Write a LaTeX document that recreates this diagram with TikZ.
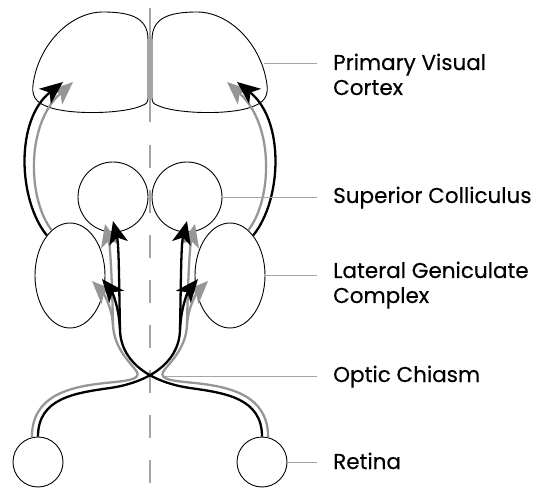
\documentclass[tikz,border=0pt]{standalone}
\usepackage{fontspec}
\setmainfont{Poppins}[FakeBold=0.3]
\usetikzlibrary{arrows.meta,shapes.geometric}

\definecolor{pathgray}{RGB}{150,150,150}
\definecolor{leadgray}{RGB}{165,165,165}

\tikzset{fibretip/.tip={Stealth[length=23pt,width=19pt,inset=6pt]}}

\begin{document}
\begin{tikzpicture}[x=1pt,y=-1pt,
    region/.style={draw, line width=0.9pt, inner sep=0pt},
    crossed/.style={line width=2.3pt, -fibretip},
    uncrossed/.style={crossed, pathgray},
    leader/.style={leadgray, line width=0.9pt},
    lbltext/.style={inner sep=0pt, align=left, font=\fontsize{21.5}{25}\selectfont}]
    \useasboundingbox (0,0) rectangle (544,489);

    % Draw the midline
    \draw[leader, line width=1.3pt] (150,8) -- (150,122);
    \draw[leader, line width=1.3pt, dash pattern=on 23pt off 22pt] (150,145) -- (150,489);

    % Draw the cortex halves
    \draw[region] (148,98) -- (148,40) .. controls (148,20) and (135,12) .. (103,12)
        .. controls (70,12) and (38,45) .. (33,85) .. controls (31,100) and (40,105) .. (55,109)
        .. controls (80,115) and (125,113) .. (141,106) .. controls (147,104) and (148,102) .. cycle;
    \draw[region] (152,98) -- (152,40) .. controls (152,20) and (165,12) .. (197,12)
        .. controls (230,12) and (262,45) .. (267,85) .. controls (269,100) and (260,105) .. (245,109)
        .. controls (220,115) and (175,113) .. (159,106) .. controls (153,104) and (152,102) .. cycle;
    \coordinate (ctxR) at (264,63);

    % Draw the colliculi, geniculate bodies and retinas
    \node[region, circle, minimum size=70pt] (scL) at (113,197) {};
    \node[region, circle, minimum size=70pt] (scR) at (187,197) {};
    \node[region, ellipse, minimum width=70pt, minimum height=105pt] (lgnL) at (70,275.5) {};
    \node[region, ellipse, minimum width=70pt, minimum height=105pt] (lgnR) at (230,275.5) {};
    \node[region, circle, minimum size=50pt] (retL) at (38,462) {};
    \node[region, circle, minimum size=50pt] (retR) at (262,462) {};
    \coordinate (chiasm) at (164,376);

    % Uncrossed fibres
    \draw[uncrossed] (retL.104) .. controls (32,396) and (68,387) .. (105,383)
        .. controls (125,381) and (141,380) .. (137,372) .. controls (133,365) and (114,350) .. (113,325)
        .. controls (112,275) and (110,245) .. (105,224);
    \draw[uncrossed] (113,325) .. controls (112,305) and (101,290) .. (92,281);
    \draw[uncrossed] (retR.76) .. controls (268,396) and (232,387) .. (195,383)
        .. controls (175,381) and (159,380) .. (163,372) .. controls (167,365) and (186,350) .. (187,325)
        .. controls (188,275) and (190,245) .. (195,224);
    \draw[uncrossed] (187,325) .. controls (188,305) and (199,290) .. (208,281);
    \draw[uncrossed] (lgnL.112) .. controls (28,200) and (25,125) .. (73,82);
    \draw[uncrossed] (lgnR.68) .. controls (272,200) and (275,125) .. (227,82);

    % Crossed fibres
    \draw[crossed] (retL.north) .. controls (38,398) and (75,393) .. (110,388)
        .. controls (145,383) and (179,365) .. (180,330) .. controls (181,280) and (181,245) .. (187,221);
    \draw[crossed] (180,330) .. controls (181,305) and (189,290) .. (198,279);
    \draw[crossed] (retR.north) .. controls (262,398) and (225,393) .. (190,388)
        .. controls (155,383) and (121,365) .. (120,330) .. controls (119,280) and (119,245) .. (113,221);
    \draw[crossed] (120,330) .. controls (119,305) and (111,290) .. (102,279);
    \draw[crossed] (lgnL.120) .. controls (18,200) and (15,120) .. (63,82);
    \draw[crossed] (lgnR.60) .. controls (282,200) and (285,120) .. (237,82);

    % Add the labels
    \node[lbltext, anchor=base west] (lblCtx) at (333,95) {Primary Visual\\Cortex};
    \node[lbltext, anchor=base west] (lblSC) at (333,203) {Superior Colliculus};
    \node[lbltext, anchor=base west] (lblLGN) at (333,303) {Lateral Geniculate\\Complex};
    \node[lbltext, anchor=base west] (lblOC) at (333,382) {Optic Chiasm};
    \node[lbltext, anchor=base west] (lblRet) at (333,469) {Retina};

    % Leader lines
    \draw[leader, shorten >=16pt] (ctxR) -- (ctxR -| lblCtx.west);
    \draw[leader, shorten >=16pt] (scR.east) -- (scR.east -| lblSC.west);
    \draw[leader, shorten >=16pt] (lgnR.east) -- (lgnR.east -| lblLGN.west);
    \draw[leader, shorten >=16pt] (chiasm) -- (chiasm -| lblOC.west);
    \draw[leader, shorten >=16pt] (retR.east) -- (retR.east -| lblRet.west);
\end{tikzpicture}
\end{document}
